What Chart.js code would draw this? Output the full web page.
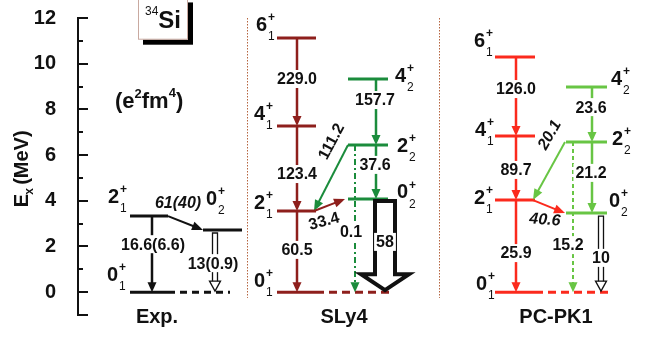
<!DOCTYPE html>
<html>
<head>
<meta charset="utf-8">
<script src="https://cdn.jsdelivr.net/npm/chart.js@4/dist/chart.umd.min.js"></script>
<style>
  html, body { margin: 0; padding: 0; background: #fff; }
  #wrap { width: 657px; height: 341px; }
</style>
</head>
<body>
<div id="wrap"><canvas id="scheme" width="657" height="341"></canvas></div>
<script>
// ---- data: level energies (MeV) and transition strengths ----
const methods = ['Exp.', 'SLy4', 'PC-PK1'];
const states = ['0+1', '2+1', '4+1', '6+1', '0+2', '2+2', '4+2'];
const expEnergy = [0, 3.33, null, null, 2.72, null, null];
const sly4Energy = [0, 3.55, 7.27, 11.12, 4.08, 6.44, 9.33];
const pcpk1Energy = [0, 4.03, 6.83, 10.29, 3.46, 6.57, 8.98];

// [from, to, value]  B(E2) in e^2fm^4, last one is the E0 value
const expTransitions = [
  ['2+1', '0+1', '16.6(6.6)'],
  ['2+1', '0+2', '61(40)'],
  ['0+2', '0+1', '13(0.9)']
];
const sly4Transitions = [
  ['6+1', '4+1', '229.0'], ['4+1', '2+1', '123.4'], ['2+1', '0+1', '60.5'],
  ['4+2', '2+2', '157.7'], ['2+2', '0+2', '37.6'], ['2+2', '2+1', '111.2'],
  ['2+1', '0+2', '33.4'], ['2+2', '0+1', '0.1'], ['0+2', '0+1', '58']
];
const pcpk1Transitions = [
  ['6+1', '4+1', '126.0'], ['4+1', '2+1', '89.7'], ['2+1', '0+1', '25.9'],
  ['4+2', '2+2', '23.6'], ['2+2', '0+2', '21.2'], ['2+2', '2+1', '20.1'],
  ['2+1', '0+2', '40.6'], ['2+2', '0+1', '15.2'], ['0+2', '0+1', '10']
];
const yTicks = [-1, 0, 1, 2, 3, 4, 5, 6, 7, 8, 9, 10, 11, 12];

const energies = [expEnergy, sly4Energy, pcpk1Energy];
const transitions = [expTransitions, sly4Transitions, pcpk1Transitions];

// ---- layout (x in diagram units, offsets in px) ----
const FONT = '"Liberation Sans", Arial, sans-serif';
const layout = [
  { // Exp.
    bands: [[52, 90], [125, 164]], groundEnd: 152, groundDash: [7, 5],
    colors: ['#111', '#111'], titleX: 79,
    stateLabels: { '0+1': [-18, -17], '2+1': [-17, -19], '0+2': [8, -31] },
    arrows: [
      { kind: 'solid', x: 74, lx: 75, le: 2.1, bg: true },
      { kind: 'cross', x1: 90, x2: 125, lx: 100, le: 3.94, rot: 0, italic: true },
      { kind: 'hollow', x: 137, lx: 135, le: 1.27, bg: true }
    ]
  },
  { // SLy4
    bands: [[199, 238], [270, 310]], groundEnd: 314, groundDash: [8, 5],
    colors: ['#8e1f1c', '#1b8c3c'], titleX: 266,
    stateLabels: { '6+1': [-16, -13], '4+1': [-18, -12], '2+1': [-18, -8], '0+1': [-18, -11],
                   '4+2': [52, -3], '2+2': [54, 1], '0+2': [54, -6] },
    arrows: [
      { kind: 'solid', x: 219, lx: 219, le: 9.33, bg: true },
      { kind: 'solid', x: 219, lx: 219, le: 5.17, bg: true },
      { kind: 'solid', x: 219, lx: 219, le: 1.85, bg: true },
      { kind: 'solid', x: 298, lx: 297, le: 8.41, bg: true },
      { kind: 'solid', x: 298, lx: 297, le: 5.57, bg: true },
      { kind: 'cross', x1: 270, x2: 236, lx: 253, le: 6.6, rot: -62 },
      { kind: 'cross', x1: 236, x2: 267, lx: 246, le: 3.13, rot: -15 },
      { kind: 'dashdot', x: 277, lx: 273, le: 2.63, bg: true },
      { kind: 'big', x: 307, lx: 307, le: 2.2, bg: true }
    ]
  },
  { // PC-PK1
    bands: [[417, 457], [488, 529]], groundEnd: 532, groundDash: [8, 5],
    colors: ['#fb2a1d', '#68c544'], titleX: 478,
    stateLabels: { '6+1': [-16, -16], '4+1': [-15, -6], '2+1': [-16, -2], '0+1': [-14, -8],
                   '4+2': [50, -8], '2+2': [51, -3], '0+2': [48, -12] },
    arrows: [
      { kind: 'solid', x: 438, lx: 438, le: 8.89, bg: true },
      { kind: 'solid', x: 438, lx: 438, le: 5.35, bg: true },
      { kind: 'solid', x: 438, lx: 438, le: 1.71, bg: true },
      { kind: 'solid', x: 514, lx: 513, le: 8.10, bg: true },
      { kind: 'solid', x: 514, lx: 513, le: 5.22, bg: true },
      { kind: 'cross', x1: 487, x2: 455, lx: 471, le: 6.9, rot: -60, italic: true },
      { kind: 'cross', x1: 455, x2: 487, lx: 467, le: 3.2, rot: 4, italic: true },
      { kind: 'dashed', x: 495, lx: 490, le: 2.06, bg: true },
      { kind: 'hollow', x: 523, lx: 523, le: 1.5, bg: true }
    ]
  }
];
const separatorsX = [169, 361];

const bandOf = s => parseInt(s.slice(-1), 10) - 1;

// level lines as datasets
const datasets = [];
methods.forEach((m, mi) => {
  const L = layout[mi], E = energies[mi];
  states.forEach((s, si) => {
    if (E[si] == null) return;
    const b = bandOf(s);
    datasets.push({
      data: [{ x: L.bands[b][0], y: E[si] }, { x: L.bands[b][1], y: E[si] }],
      borderColor: L.colors[b], borderWidth: 3, showLine: true, pointRadius: 0, clip: false
    });
  });
  datasets.push({
    data: [{ x: L.bands[0][1], y: E[0] }, { x: L.groundEnd, y: E[0] }],
    borderColor: L.colors[0], borderWidth: 3, borderDash: L.groundDash,
    showLine: true, pointRadius: 0, clip: false
  });
});

function head(ctx, x, y, ang, len, hw, hollow) {
  ctx.save();
  ctx.translate(x, y);
  ctx.rotate(ang);
  ctx.setLineDash([]);
  ctx.beginPath();
  ctx.moveTo(0, 0);
  ctx.lineTo(-len, -hw);
  ctx.lineTo(-len, hw);
  ctx.closePath();
  if (hollow) { ctx.fillStyle = '#fff'; ctx.fill(); ctx.stroke(); } else ctx.fill();
  ctx.restore();
}

function stateLabel(ctx, cx, cy, s) {
  ctx.fillStyle = '#111';
  ctx.textBaseline = 'middle';
  ctx.textAlign = 'right';
  ctx.font = 'bold 20px ' + FONT;
  ctx.fillText(s[0], cx + 6, cy);
  ctx.textAlign = 'left';
  ctx.font = 'bold 12px ' + FONT;
  ctx.fillText('+', cx + 7, cy - 7);
  ctx.font = '12px ' + FONT;
  ctx.fillText(s[2], cx + 7, cy + 12);
}

function numLabel(ctx, x, y, text, opt) {
  ctx.save();
  ctx.translate(x, y);
  ctx.rotate((opt.rot || 0) * Math.PI / 180);
  ctx.font = (opt.italic ? 'italic ' : '') + 'bold 16px ' + FONT;
  ctx.textAlign = 'center';
  ctx.textBaseline = 'middle';
  if (opt.bg) {
    const w = ctx.measureText(text).width;
    ctx.fillStyle = '#fff';
    ctx.fillRect(-w / 2 - 2, -9, w + 4, 18);
  }
  ctx.fillStyle = '#111';
  ctx.fillText(text, 0, 1);
  ctx.restore();
}

const schemePlugin = {
  id: 'scheme',
  afterDatasetsDraw(chart) {
    const { ctx, scales: { x, y } } = chart;
    const px = v => x.getPixelForValue(v);
    const py = v => y.getPixelForValue(v);
    ctx.save();

    // y axis inward ticks
    ctx.strokeStyle = '#111';
    ctx.lineWidth = 2;
    yTicks.forEach(t => {
      const len = (t % 2 === 0 || t === -1) ? 10 : 5;
      const yy = Math.round(py(t));
      ctx.beginPath();
      ctx.moveTo(x.left, yy);
      ctx.lineTo(x.left + len, yy);
      ctx.stroke();
    });

    // axis title  E_x (MeV)
    ctx.save();
    ctx.translate(x.left - 50, py(3.72));
    ctx.rotate(-Math.PI / 2);
    ctx.fillStyle = '#111';
    ctx.textAlign = 'left';
    ctx.textBaseline = 'alphabetic';
    ctx.font = 'bold 20px ' + FONT;
    ctx.fillText('E', 0, 0);
    const wE = ctx.measureText('E').width;
    ctx.font = 'bold 12px ' + FONT;
    ctx.fillText('x', wE - 1, 5);
    ctx.font = 'bold 20px ' + FONT;
    ctx.fillText('(MeV)', wE + 9, 0);
    ctx.restore();

    // dotted separators
    ctx.strokeStyle = '#b5643f';
    ctx.lineWidth = 1;
    ctx.setLineDash([1.5, 1.5]);
    separatorsX.forEach(sx => {
      ctx.beginPath();
      ctx.moveTo(Math.round(px(sx)) + 0.5, py(12));
      ctx.lineTo(Math.round(px(sx)) + 0.5, py(-0.25));
      ctx.stroke();
    });
    ctx.setLineDash([]);

    methods.forEach((m, mi) => {
      const L = layout[mi], E = energies[mi];
      const eOf = s => E[states.indexOf(s)];
      const labels = [];
      transitions[mi].forEach((tr, ti) => {
        const a = L.arrows[ti];
        const color = a.kind === 'big' || a.kind === 'hollow' ? '#111' : L.colors[bandOf(tr[0])];
        const y1 = py(eOf(tr[0])), y2 = py(eOf(tr[1]));
        ctx.strokeStyle = color;
        ctx.fillStyle = color;
        ctx.lineCap = 'butt';
        if (a.kind === 'solid' || a.kind === 'dashed' || a.kind === 'dashdot') {
          const X = Math.round(px(a.x));
          ctx.lineWidth = a.kind === 'solid' ? 2.5 : 2;
          ctx.setLineDash(a.kind === 'dashed' ? [4, 3] : a.kind === 'dashdot' ? [6, 3, 2, 3] : []);
          ctx.beginPath();
          ctx.moveTo(X, y1);
          ctx.lineTo(X, y2 - 7);
          ctx.stroke();
          ctx.setLineDash([]);
          head(ctx, X, y2, Math.PI / 2, 10, 4.5, false);
        } else if (a.kind === 'cross') {
          const x1 = px(a.x1), x2 = px(a.x2);
          const ang = Math.atan2(y2 - y1, x2 - x1);
          ctx.lineWidth = 2;
          ctx.beginPath();
          ctx.moveTo(x1, y1);
          ctx.lineTo(x2 - 8 * Math.cos(ang), y2 - 8 * Math.sin(ang));
          ctx.stroke();
          head(ctx, x2, y2, ang, 11, 4.5, false);
        } else if (a.kind === 'hollow') {
          const X = Math.round(px(a.x));
          ctx.lineWidth = 1.3;
          ctx.beginPath();
          ctx.moveTo(X - 2.5, y2 - 10);
          ctx.lineTo(X - 2.5, y1 + 3);
          ctx.lineTo(X + 2.5, y1 + 3);
          ctx.lineTo(X + 2.5, y2 - 10);
          ctx.stroke();
          head(ctx, X, y2 - 1, Math.PI / 2, 10, 5.5, true);
        } else if (a.kind === 'big') {
          const X = px(a.x);
          ctx.lineWidth = 4;
          ctx.lineJoin = 'miter';
          ctx.beginPath();
          ctx.moveTo(X - 10, y1 + 2);
          ctx.lineTo(X + 10, y1 + 2);
          ctx.lineTo(X + 10, y2 - 18);
          ctx.lineTo(X + 24, y2 - 18);
          ctx.lineTo(X, y2 - 2);
          ctx.lineTo(X - 24, y2 - 18);
          ctx.lineTo(X - 10, y2 - 18);
          ctx.closePath();
          ctx.fillStyle = '#fff';
          ctx.fill();
          ctx.stroke();
        }
        labels.push([px(a.lx), py(a.le), tr[2], a]);
      });
      labels.forEach(l => numLabel(ctx, l[0], l[1], l[2], l[3]));

      // state labels
      states.forEach((s, si) => {
        if (E[si] == null || !L.stateLabels[s]) return;
        const b = bandOf(s);
        const [dx, dy] = L.stateLabels[s];
        stateLabel(ctx, px(L.bands[b][0]) + dx, py(E[si]) + dy, s);
      });

      // method title
      ctx.fillStyle = '#111';
      ctx.font = 'bold 20px ' + FONT;
      ctx.textAlign = 'center';
      ctx.textBaseline = 'middle';
      ctx.fillText(m, px(L.titleX), py(-1.12));
    });

    // (e2fm4) unit note
    ctx.textAlign = 'left';
    ctx.textBaseline = 'alphabetic';
    let ux = px(37), uy = py(8.41) + 8;
    const parts = [['(e', 22, 0], ['2', 13, -10], ['fm', 22, 0], ['4', 13, -11], [')', 22, 0]];
    parts.forEach(p => {
      ctx.font = 'bold ' + p[1] + 'px ' + FONT;
      ctx.fillText(p[0], ux, uy + p[2]);
      ux += ctx.measureText(p[0]).width;
    });

    // nucleus box
    const bx0 = px(60), bx1 = px(110), by0 = py(12.9), by1 = py(11.05);
    ctx.fillStyle = '#000';
    ctx.fillRect(bx0 + 5, by0 + 5, bx1 - bx0, by1 - by0);
    ctx.fillStyle = '#fff';
    ctx.fillRect(bx0, by0, bx1 - bx0, by1 - by0);
    ctx.strokeStyle = '#c9a9a0';
    ctx.lineWidth = 1;
    ctx.strokeRect(bx0 + 0.5, by0 + 0.5, bx1 - bx0 - 1, by1 - by0 - 1);
    ctx.fillStyle = '#111';
    ctx.font = '12px ' + FONT;
    const ty = (by0 + by1) / 2;
    ctx.fillText('34', bx0 + 7, ty - 4);
    const w34 = ctx.measureText('34').width;
    ctx.font = 'bold 24px ' + FONT;
    ctx.fillText('Si', bx0 + 7 + w34, ty + 9);

    ctx.restore();
  }
};

new Chart(document.getElementById('scheme'), {
  type: 'scatter',
  data: { datasets },
  options: {
    responsive: false,
    animation: false,
    devicePixelRatio: 1,
    layout: { padding: { left: 0, right: 0, top: 18, bottom: 26 } },
    plugins: { legend: { display: false }, tooltip: { enabled: false } },
    scales: {
      x: { type: 'linear', min: 0, max: 579, display: false },
      y: {
        type: 'linear', min: -1, max: 12,
        afterFit: s => { s.width = 78; s.paddingTop = 0; s.paddingBottom = 0; },
        afterBuildTicks: s => { s.ticks = yTicks.map(v => ({ value: v })); },
        ticks: {
          autoSkip: false, padding: 14, color: '#111',
          font: { family: FONT, size: 20, weight: 'bold' },
          callback: v => (v >= 0 && v % 2 === 0) ? String(v) : ''
        },
        grid: { display: false },
        border: { display: true, color: '#111', width: 2 }
      }
    }
  },
  plugins: [schemePlugin]
});
</script>
</body>
</html>
